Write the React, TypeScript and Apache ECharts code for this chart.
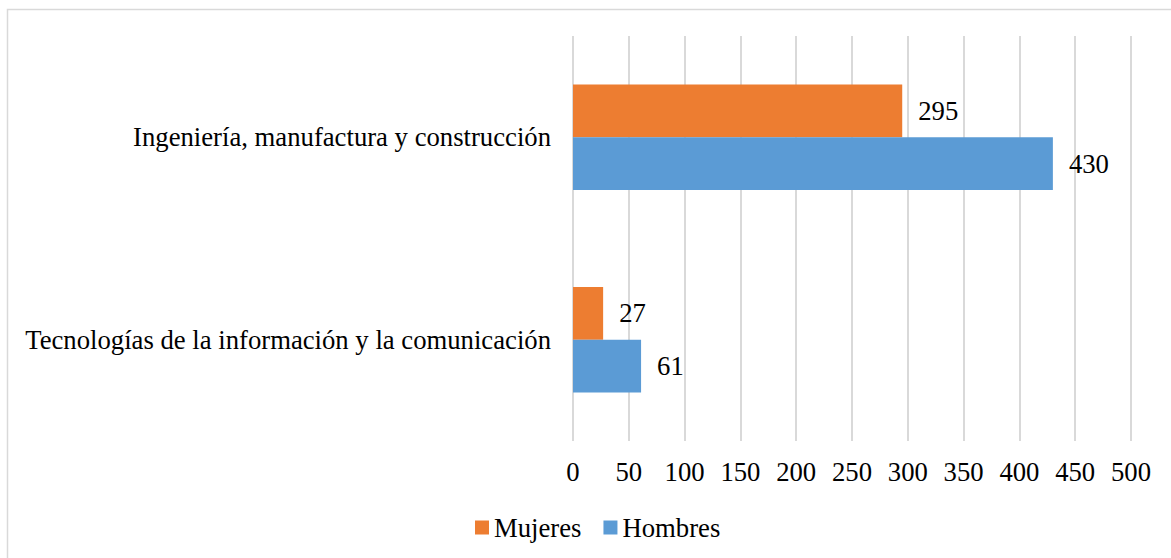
import React, { useEffect, useRef } from "react";
import * as echarts from "echarts";

const categories = [
  "Tecnologías de la información y la comunicación",
  "Ingeniería, manufactura y construcción",
];
const hombres = [61, 430];
const mujeres = [27, 295];
const xTicks = { min: 0, max: 500, interval: 50 };

const FONT = "Liberation Serif";
const FS = 26.7;

export default function App() {
  const ref = useRef<HTMLDivElement>(null);
  useEffect(() => {
    document.body.style.margin = "0";
    const chart = echarts.init(ref.current!, null, { renderer: "svg" });
    const lbl = {
      show: true,
      position: "right",
      distance: 16,
      color: "#000",
      fontSize: FS,
      fontFamily: FONT,
    };
    chart.setOption({
      animation: false,
      backgroundColor: "#ffffff",
      textStyle: { fontFamily: FONT },
      graphic: [
        {
          type: "rect",
          left: 5,
          top: 7,
          shape: { x: 0, y: 0, width: 1200, height: 600 },
          style: { fill: "none", stroke: "#D9D9D9", lineWidth: 1.5 },
          silent: true,
        },
      ],
      grid: { left: 573, right: 40, top: 36, bottom: 117, containLabel: false },
      xAxis: {
        type: "value",
        min: xTicks.min,
        max: xTicks.max,
        interval: xTicks.interval,
        axisLine: { show: false },
        axisTick: { show: false },
        splitLine: { show: true, lineStyle: { color: "#D9D9D9", width: 2 } },
        axisLabel: { color: "#000", fontSize: FS, fontFamily: FONT, margin: 17 },
      },
      yAxis: {
        type: "category",
        data: categories,
        axisLine: { show: false },
        axisTick: { show: false },
        axisLabel: { color: "#000", fontSize: FS, fontFamily: FONT, margin: 22 },
      },
      legend: {
        data: ["Mujeres", "Hombres"],
        left: 470,
        top: 509,
        icon: "rect",
        itemWidth: 14,
        itemHeight: 14,
        itemGap: 22,
        textStyle: { color: "#000", fontSize: FS, fontFamily: FONT },
      },
      series: [
        {
          name: "Mujeres",
          type: "bar",
          data: mujeres,
          itemStyle: { color: "#ED7D31" },
          barGap: "0%",
          barCategoryGap: "48%",
          label: lbl,
        },
        {
          name: "Hombres",
          type: "bar",
          data: hombres,
          itemStyle: { color: "#5B9BD5" },
          barGap: "0%",
          barCategoryGap: "48%",
          label: lbl,
        },
      ],
    });
    return () => chart.dispose();
  }, []);
  return (
    <div
      ref={ref}
      style={{ position: "absolute", left: 0, top: 0, width: 1171, height: 558 }}
    />
  );
}
